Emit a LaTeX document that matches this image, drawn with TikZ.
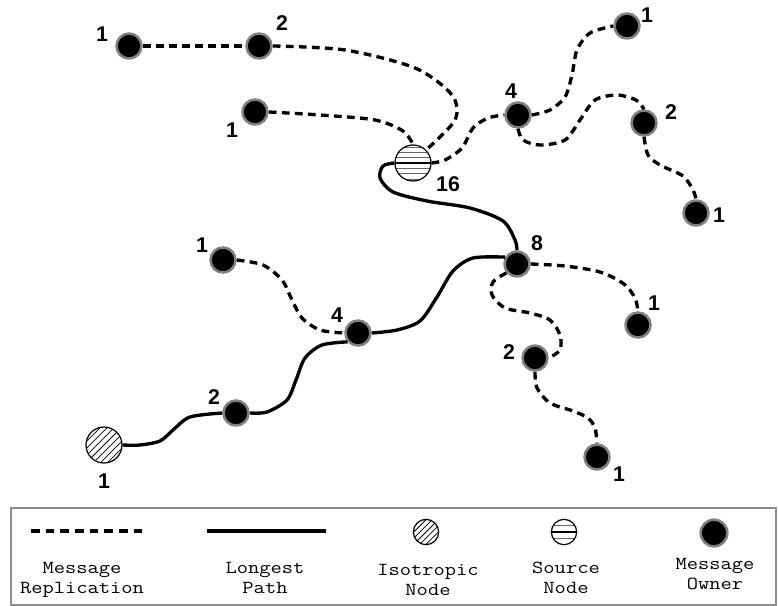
\documentclass[tikz,border=0pt]{standalone}
\usepackage{fontspec}
\usepackage{graphicx}
\setmainfont{Liberation Sans}
\definecolor{rimgray}{RGB}{128,128,128}
\definecolor{framegray}{RGB}{140,140,140}
% horizontal stripes of the source node (argument: gap between stripes)
\newcommand\srcstripes[1]{%
  \foreach \k in {-3,...,3}{%
    \draw[line width=0.6pt,black!60] ([yshift=\k*#1]path picture bounding box.west) -- ([yshift=\k*#1]path picture bounding box.east);}%
  \draw[line width=0.9pt,black] (path picture bounding box.west) -- (path picture bounding box.east);}
% diagonal hatching of the isotropic node (argument: horizontal offset between lines)
\newcommand\isohatch[1]{%
  \foreach \d in {-6,...,6}{%
    \draw[line width=0.55pt,black] ([xshift=\d*#1]path picture bounding box.center) ++(-30pt,-30pt) -- ++(60pt,60pt);}}
% typewriter legend caption, a little flattened
\newcommand\legcap[1]{\scalebox{1}[0.84]{#1}}
\begin{document}
\begin{tikzpicture}[x=0.75pt,y=-0.75pt,
  owner/.style={circle,inner sep=0pt,minimum size=18.75pt,fill=black,draw=rimgray,line width=1.9pt},
  source/.style={circle,inner sep=0pt,minimum size=27pt,draw=black,line width=0.9pt,fill=white,path picture={\srcstripes{4pt}}},
  sourcesmall/.style={circle,inner sep=0pt,minimum size=19pt,draw=black,line width=0.9pt,fill=white,path picture={\srcstripes{4.8pt}}},
  iso/.style={circle,inner sep=0pt,minimum size=27pt,draw=black,line width=0.9pt,fill=white,path picture={\isohatch{5.3pt}}},
  isosmall/.style={circle,inner sep=0pt,minimum size=19pt,draw=black,line width=0.9pt,fill=white,path picture={\isohatch{4.6pt}}},
  num/.style={inner sep=0pt,font=\bfseries\fontsize{16}{19}\selectfont},
  rep/.style={line width=2.5pt,dash pattern=on 5.8pt off 4pt},
  longest/.style={line width=2.5pt},
  legrep/.style={line width=3pt,dash pattern=on 6.5pt off 4.5pt},
  leglong/.style={line width=3pt},
  legtxt/.style={anchor=base,inner sep=0pt,font=\ttfamily\fontsize{16.4}{18}\selectfont},
  frame/.style={draw=framegray,line width=1.3pt}
]
\useasboundingbox (0,0) rectangle (778,606);

% ---- nodes
\node[owner] (A1) at (129,46) {};
\node[owner] (A2) at (259,46) {};
\node[owner] (B1) at (255,112) {};
\node[source] (src) at (413,163) {};
\node[owner] (N4a) at (518,115) {};
\node[owner] (T1) at (627,26) {};
\node[owner] (T2) at (644,123) {};
\node[owner] (T3) at (696,213) {};
\node[owner] (N8) at (517,264) {};
\node[owner] (L1) at (223,260) {};
\node[owner] (N4b) at (358,333) {};
\node[owner] (R1) at (638,325) {};
\node[owner] (R2) at (535,358) {};
\node[owner] (R3) at (597,457) {};
\node[owner] (N2) at (236,413) {};
\node[iso] (iso) at (104,445) {};

% ---- message replication (dashed)
\draw[rep] (A1.east) -- (A2.west);
\draw[rep] plot[smooth] coordinates {(A2.east) (345,50) (415,68) (452,95) (455,120) (src.45)};
\draw[rep] plot[smooth] coordinates {(B1.east) (320,115) (375,120) (403,131) (src.north)};
\draw[rep] plot[smooth] coordinates {(src.east) (445,160) (462,148) (473,128) (488,118) (N4a.west)};
\draw[rep] plot[smooth] coordinates {(N4a.east) (550,110) (565,97) (572,75) (577,50) (590,33) (T1.west)};
\draw[rep] plot[smooth] coordinates {(N4a.south) (523,140) (540,145) (565,140) (580,120) (595,100) (617,95) (636,100) (T2.north)};
\draw[rep] plot[smooth] coordinates {(T2.south) (648,155) (660,165) (683,176) (693,190) (T3.north)};
\draw[rep] plot[smooth] coordinates {(L1.east) (263,265) (282,280) (292,300) (302,318) (320,330) (N4b.west)};
\draw[rep] plot[smooth] coordinates {(N8.east) (565,266) (600,272) (624,284) (635,298) (R1.north)};
\draw[rep] plot[smooth] coordinates {(N8.220) (493,282) (492,295) (505,308) (530,313) (550,320) (560,335) (560,350) (R2.east)};
\draw[rep] plot[smooth] coordinates {(R2.south) (537,388) (550,403) (573,411) (588,418) (595,428) (R3.north)};

% ---- longest path (solid)
\draw[longest] plot[smooth] coordinates {(src.west) (383,166) (380,178) (393,192) (427,201) (470,208) (503,221) (515,240) (N8.north)};
\draw[longest] plot[smooth] coordinates {(N8.150) (473,258) (453,271) (437,297) (420,321) (397,330) (N4b.east)};
\draw[longest] plot[smooth] coordinates {(N4b.220) (322,345) (305,358) (296,380) (287,400) (267,412) (N2.east)};
\draw[longest] plot[smooth] coordinates {(N2.west) (190,417) (173,430) (160,441) (140,445) (iso.east)};

% ---- counts
\node[num] (cA1) at (102,34) {1};
\node[num] (cA2) at (282,23) {2};
\node[num] (cB1) at (232,130) {1};
\node[num] (csrc) at (448,184) {16};
\node[num] (cN4a) at (511,91) {4};
\node[num] (cT1) at (647,15) {1};
\node[num] (cT2) at (671,112) {2};
\node[num] (cT3) at (719,215) {1};
\node[num] (cN8) at (537,243) {8};
\node[num] (cL1) at (202,245) {1};
\node[num] (cN4b) at (337,315) {4};
\node[num] (cR1) at (654,303) {1};
\node[num] (cR2) at (509,352) {2};
\node[num] (cR3) at (619,474) {1};
\node[num] (cN2) at (214,397) {2};
\node[num] (ciso) at (104,481) {1};

% ---- legend
\draw[frame] (11,508) rectangle (776,605);
\coordinate (repA) at (31,531);
\coordinate (repB) at (147,531);
\coordinate (longA) at (207,531);
\coordinate (longB) at (326,531);
\draw[legrep] (repA) -- (repB);
\draw[leglong] (longA) -- (longB);
\node[isosmall] (lgIso) at (426,532) {};
\node[sourcesmall] (lgSrc) at (564,532) {};
\node[owner,minimum size=20pt] (lgOwn) at (714,533) {};

\node[legtxt] (tRepA) at (82,573) {\legcap{Message}};
\node[legtxt] (tRepB) at (82,593) {\legcap{Replication}};
\node[legtxt] (tLongA) at (265,573) {\legcap{Longest}};
\node[legtxt] (tLongB) at (265,593) {\legcap{Path}};
\node[legtxt] (tIsoA) at (428,575) {\legcap{Isotropic}};
\node[legtxt] (tIsoB) at (428,595) {\legcap{Node}};
\node[legtxt] (tSrcA) at (566,573) {\legcap{Source}};
\node[legtxt] (tSrcB) at (566,593) {\legcap{Node}};
\node[legtxt] (tOwnA) at (715,569) {\legcap{Message}};
\node[legtxt] (tOwnB) at (715,589) {\legcap{Owner}};
\end{tikzpicture}
\end{document}
